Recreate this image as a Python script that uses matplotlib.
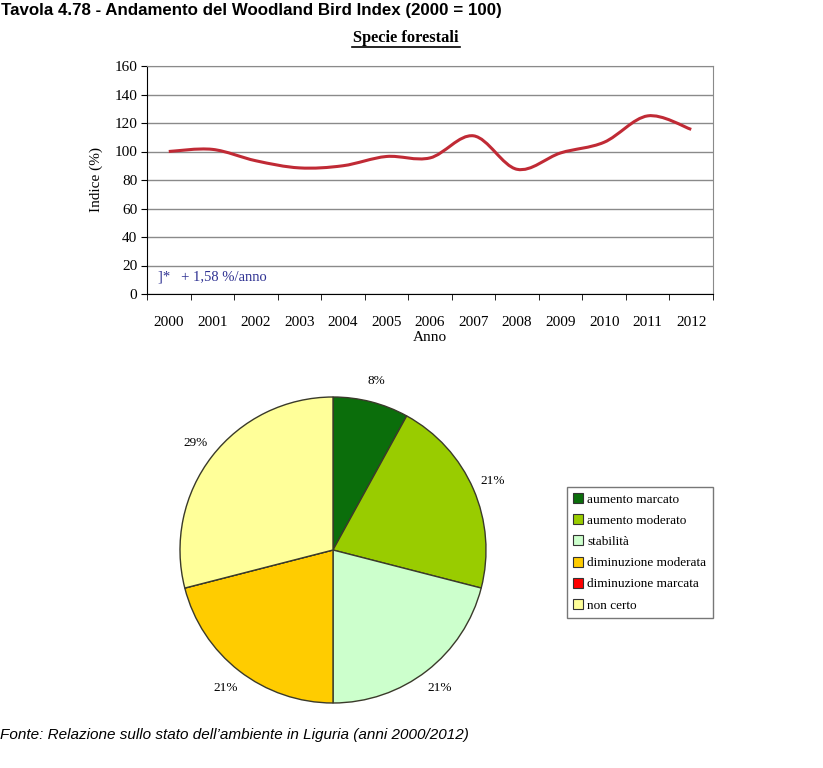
import numpy as np
import matplotlib
matplotlib.use("Agg")
import matplotlib.pyplot as plt
from matplotlib.path import Path
from matplotlib.patches import PathPatch, Patch

# ---------------- data ----------------
years = ["2000", "2001", "2002", "2003", "2004", "2005", "2006",
         "2007", "2008", "2009", "2010", "2011", "2012"]
index_values = [100, 101.5, 93.5, 88.5, 90, 96.5, 95.5, 111, 87.5, 99, 106.5, 125, 115.5]
y_ticks = [0, 20, 40, 60, 80, 100, 120, 140, 160]

pie_labels = ["aumento marcato", "aumento moderato", "stabilità",
              "diminuzione moderata", "diminuzione marcata", "non certo"]
pie_values = [8, 21, 21, 21, 0, 29]
pie_colors = ["#0b6e0b", "#99cc00", "#ccffcc", "#ffcc00", "#ff0000", "#ffff99"]

W, H = 823, 768
fig = plt.figure(figsize=(W / 100, H / 100), dpi=100)
serif = "Liberation Serif"
sans = "Liberation Sans"

def box(l, t, r, b):
    return [l / W, 1 - b / H, (r - l) / W, (b - t) / H]

# ---------------- titles ----------------
fig.text(1 / W, 1 - 10 / H, "Tavola 4.78 - Andamento del Woodland Bird Index (2000 = 100)",
         family=sans, weight="bold", fontsize=12.2, ha="left", va="center")
fig.text(406 / W, 1 - 38 / H, "Specie forestali", family=serif, weight="bold",
         fontsize=11.8, ha="center", va="center")
fig.add_artist(plt.Line2D([352 / W, 460 / W], [1 - 47 / H, 1 - 47 / H], color="black", lw=1.2))
fig.text(0.5 / W, 1 - 735 / H,
         "Fonte: Relazione sullo stato dell\u2019ambiente in Liguria (anni 2000/2012)",
         family=sans, style="italic", fontsize=11, ha="left", va="center")

# ---------------- line chart ----------------
ax = fig.add_axes(box(147, 66, 713, 294))
n = len(years)
x = np.arange(n, dtype=float)
y = np.array(index_values, dtype=float)
verts = [(x[0], y[0])]
codes = [Path.MOVETO]
for i in range(n - 1):
    p0 = np.array([x[max(i - 1, 0)], y[max(i - 1, 0)]])
    p1 = np.array([x[i], y[i]])
    p2 = np.array([x[i + 1], y[i + 1]])
    p3 = np.array([x[min(i + 2, n - 1)], y[min(i + 2, n - 1)]])
    c1 = p1 + (p2 - p0) / 6
    c2 = p2 - (p3 - p1) / 6
    verts += [tuple(c1), tuple(c2), tuple(p2)]
    codes += [Path.CURVE4] * 3
ax.add_patch(PathPatch(Path(verts, codes), facecolor="none", edgecolor="#c02a35", lw=2.2, zorder=3))

ax.set_xlim(-0.5, n - 0.5)
ax.set_ylim(0, 160)
ax.set_yticks(y_ticks)
ax.set_xticks(x)
ax.set_xticklabels(years)
ax.set_xticks(np.arange(-0.5, n, 1.0), minor=True)
ax.tick_params(axis="x", which="major", length=0, pad=16)
ax.tick_params(axis="x", which="minor", length=4, direction="out", color="black")
ax.tick_params(axis="y", length=4, direction="out", pad=3)
for lab in ax.get_xticklabels() + ax.get_yticklabels():
    lab.set_family(serif)
    lab.set_fontsize(11)
ax.grid(axis="y", color="#8a8a8a", lw=1)
ax.set_axisbelow(True)
for s in ["top", "right"]:
    ax.spines[s].set_color("#8a8a8a")
for s in ["left", "bottom"]:
    ax.spines[s].set_color("black")
ax.set_ylabel("Indice (%)", family=serif, fontsize=11, labelpad=8)
ax.set_xlabel("Anno", family=serif, fontsize=11, labelpad=1)
ax.text(0.02, 0.075, "]*   + 1,58 %/anno", transform=ax.transAxes, family=serif,
        fontsize=10.5, color="#2e3192", ha="left", va="center")

# ---------------- pie chart ----------------
cx, cy, r = 333, 550, 153
pax = fig.add_axes(box(cx - r, cy - r, cx + r, cy + r))
lbls = [f"{v}%" if v > 0 else "" for v in pie_values]
wedges, texts = pax.pie(pie_values, colors=pie_colors, startangle=90, counterclock=False,
                        labels=lbls, labeldistance=1.14,
                        wedgeprops=dict(edgecolor="#3a3a2a", linewidth=1),
                        textprops=dict(family=serif, fontsize=9.5))
pax.set_xlim(-1, 1)
pax.set_ylim(-1, 1)
pax.set_aspect("equal")
for tx in texts:
    tx.set_ha("center")
    tx.set_va("center")

handles = [Patch(facecolor=c, edgecolor="#333333", lw=0.8) for c in pie_colors]
leg = fig.legend(handles, pie_labels, loc="upper left",
                 bbox_to_anchor=(567 / W, 1 - 487 / H), bbox_transform=fig.transFigure,
                 prop=dict(family=serif, size=9.5), frameon=True, fancybox=False,
                 edgecolor="#555555", handlelength=0.8, handleheight=0.8,
                 handletextpad=0.3, labelspacing=0.65, borderpad=0.45, borderaxespad=0)
leg.get_frame().set_linewidth(1)

fig.savefig("out.png", dpi=100)
